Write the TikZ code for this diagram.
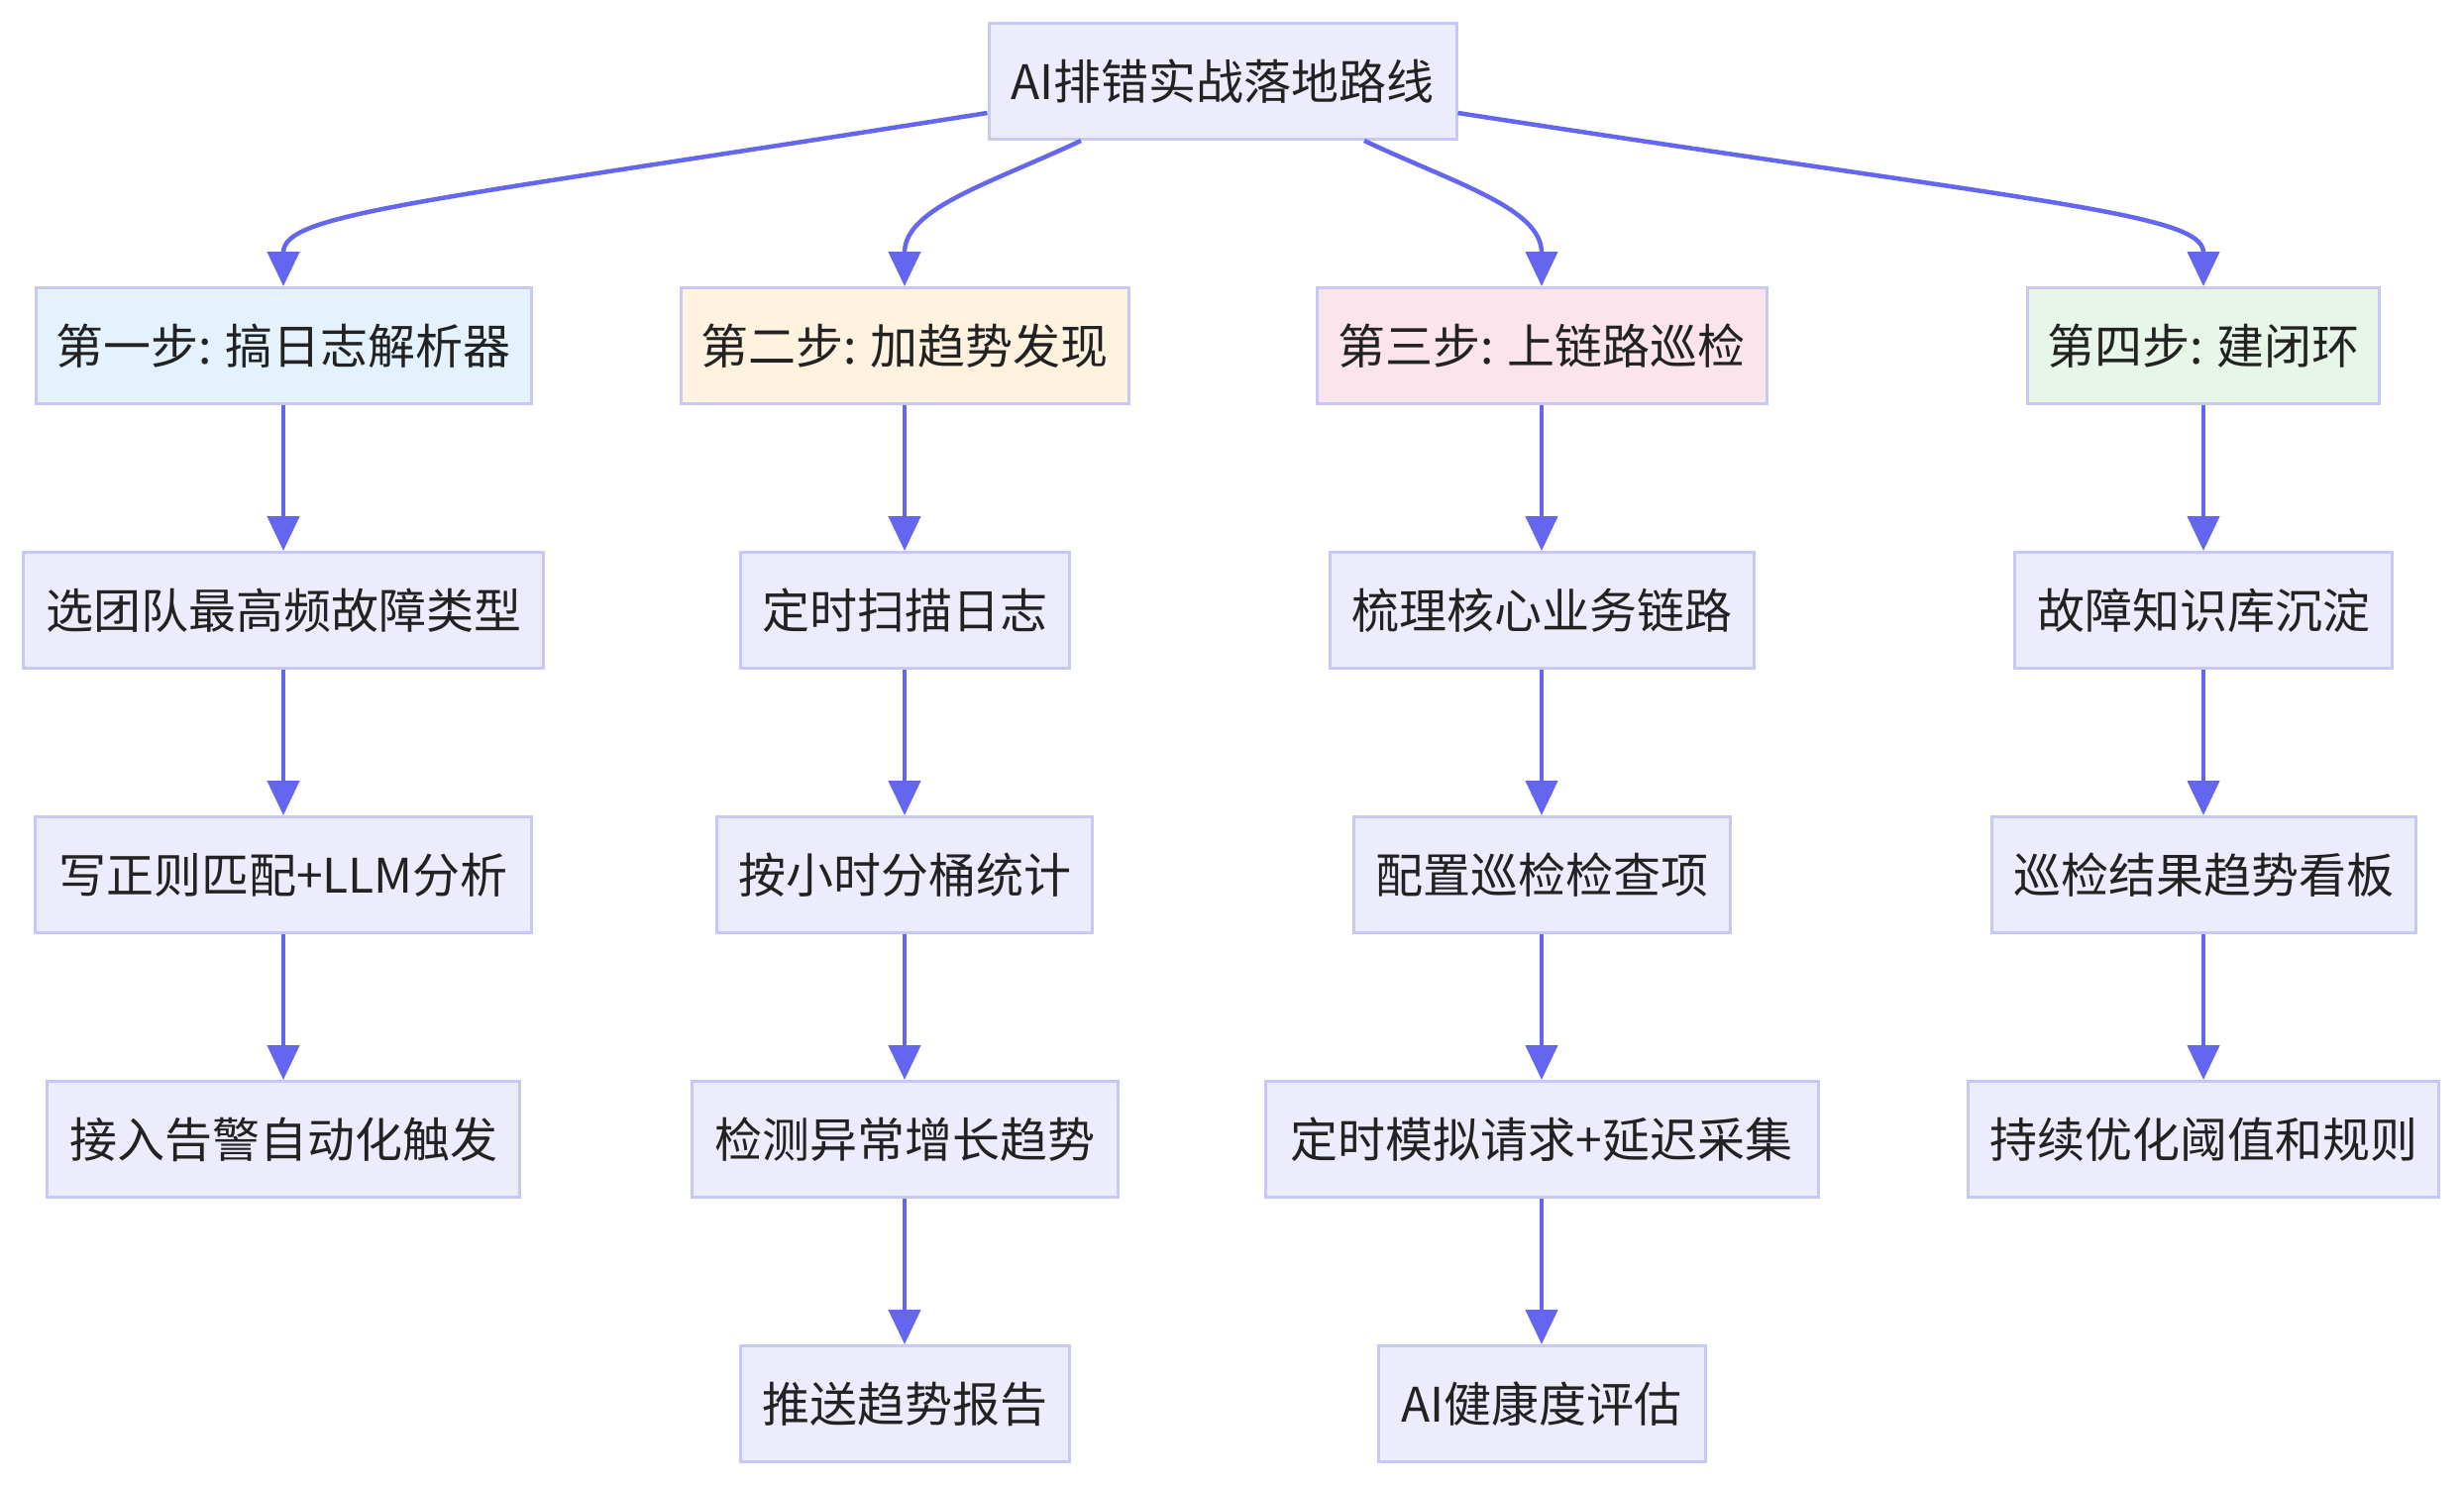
\documentclass[tikz,border=0pt]{standalone}
\usepackage{fontspec}
\setmainfont{Noto Sans CJK SC}
\usetikzlibrary{arrows.meta,calc}
\definecolor{edgec}{HTML}{6466F0}
\definecolor{bordc}{HTML}{C8C8F4}
\definecolor{nodef}{HTML}{ECECFC}
\definecolor{txt}{HTML}{222222}
\definecolor{fblue}{HTML}{E3F2FD}
\definecolor{forange}{HTML}{FFF3E0}
\definecolor{fpink}{HTML}{FCE4EC}
\definecolor{fgreen}{HTML}{E8F5E9}
\begin{document}
\begin{tikzpicture}[x=1pt,y=-1pt,
  box/.style={draw=bordc, line width=3pt, fill=nodef, minimum height=117pt, inner sep=0pt, font=\fontsize{48}{57}\selectfont, text=txt},
  conn/.style={draw=edgec, line width=4.5pt, -{Triangle[length=35pt,width=32pt]}}]
\useasboundingbox[fill=white] (0,0) rectangle (2487,1500);
% root
\node[box, minimum width=472pt] (root) at (1234,82) {AI排错实战落地路线};
% row 1
\node[box, fill=fblue, minimum width=500pt] (s1) at (286,349) {第一步: 搞日志解析器};
\node[box, fill=forange, minimum width=452pt] (s2) at (913,349) {第二步: 加趋势发现};
\node[box, fill=fpink, minimum width=454pt] (s3) at (1556,349) {第三步: 上链路巡检};
\node[box, fill=fgreen, minimum width=355pt] (s4) at (2224,349) {第四步: 建闭环};
% row 2
\node[box, minimum width=525pt] (a2) at (286,616) {选团队最高频故障类型};
\node[box, minimum width=332pt] (b2) at (913,616) {定时扫描日志};
\node[box, minimum width=428pt] (c2) at (1556,616) {梳理核心业务链路};
\node[box, minimum width=381pt] (d2) at (2224,616) {故障知识库沉淀};
% row 3
\node[box, minimum width=501pt] (a3) at (286,883) {写正则匹配+LLM分析};
\node[box, minimum width=379pt] (b3) at (913,883) {按小时分桶统计};
\node[box, minimum width=380pt] (c3) at (1556,883) {配置巡检检查项};
\node[box, minimum width=428pt] (d3) at (2224,883) {巡检结果趋势看板};
% row 4
\node[box, minimum width=477pt] (a4) at (286,1150) {接入告警自动化触发};
\node[box, minimum width=430pt] (b4) at (913,1150) {检测异常增长趋势};
\node[box, minimum width=558pt] (c4) at (1556,1150) {定时模拟请求+延迟采集};
\node[box, minimum width=475pt] (d4) at (2224,1150) {持续优化阈值和规则};
% row 5
\node[box, minimum width=332pt] (b5) at (913,1417) {推送趋势报告};
\node[box, minimum width=330pt] (c5) at (1556,1417) {AI健康度评估};
% root edges
\draw[conn] ($(root.west)+(0,32)$) .. controls (420,205) and (286,215) .. (s1.north);
\draw[conn] ($(root.south)+(-143,0)$) .. controls (1000,185) and (913,210) .. (s2.north);
\draw[conn] ($(root.south)+(143,0)$) .. controls (1468,185) and (1556,210) .. (s3.north);
\draw[conn] ($(root.east)+(0,32)$) .. controls (2060,205) and (2224,215) .. (s4.north);
% column edges
\draw[conn] (s1) -- (a2);
\draw[conn] (a2) -- (a3);
\draw[conn] (a3) -- (a4);
\draw[conn] (s2) -- (b2);
\draw[conn] (b2) -- (b3);
\draw[conn] (b3) -- (b4);
\draw[conn] (b4) -- (b5);
\draw[conn] (s3) -- (c2);
\draw[conn] (c2) -- (c3);
\draw[conn] (c3) -- (c4);
\draw[conn] (c4) -- (c5);
\draw[conn] (s4) -- (d2);
\draw[conn] (d2) -- (d3);
\draw[conn] (d3) -- (d4);
\end{tikzpicture}
\end{document}
